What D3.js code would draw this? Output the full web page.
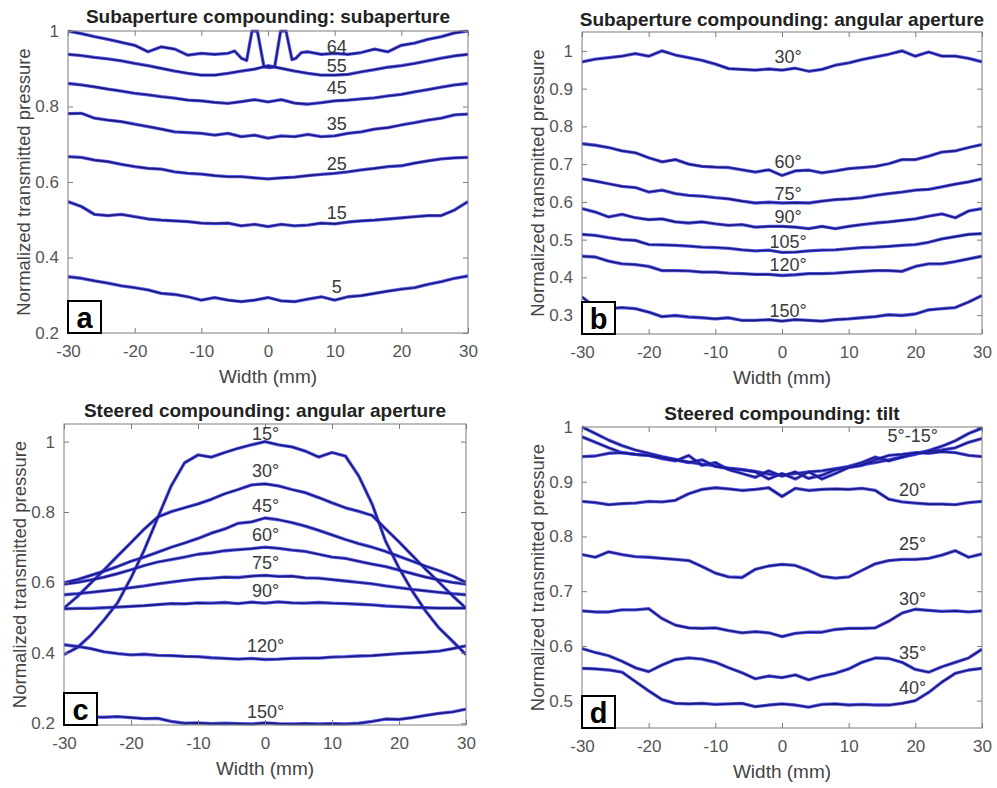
<!DOCTYPE html>
<html>
<head>
<meta charset="utf-8">
<script src="https://cdn.jsdelivr.net/npm/d3@7"></script>
<style>
  body { margin: 0; background: #fff; }
  svg { display: block; font-family: "Liberation Sans", Arial, sans-serif; }
</style>
</head>
<body>
<svg id="fig" width="997" height="788"></svg>
<script>
// Lateral position of every sample (mm)
const widthMm = [-30,-28,-26,-24,-22,-20,-18,-16,-14,-12,-10,-8,-6,-4,-2,0,2,4,6,8,10,12,14,16,18,20,22,24,26,28,30];
const xTicks = [-30,-20,-10,0,10,20,30];

// (a) subaperture compounding, number of elements in the subaperture
const subapLabels = ["64","55","45","35","25","15","5"];
const subapLabelY = [0.958,0.906,0.848,0.754,0.649,0.517,0.323];
const subap64X = [-30,-28,-26,-24,-22,-20,-18,-16,-14,-12,-10,-8,-6,-5,-4,-3.2,-2.4,-1.6,-0.6,0.2,1.0,1.9,2.7,3.6,4.2,5,6,8,10,12,14,16,18,20,22,24,26,28,30];
const subap64 = [1.000,0.993,0.985,0.978,0.970,0.962,0.945,0.958,0.952,0.936,0.941,0.938,0.941,0.947,0.928,0.922,1.000,1.000,0.905,0.903,0.905,1.000,1.000,0.924,0.928,0.943,0.945,0.938,0.941,0.938,0.943,0.952,0.945,0.962,0.968,0.978,0.985,0.995,1.000];
const subap55 = [0.938,0.935,0.930,0.926,0.921,0.914,0.908,0.901,0.894,0.888,0.883,0.883,0.888,0.894,0.899,0.908,0.901,0.894,0.888,0.883,0.883,0.885,0.892,0.898,0.904,0.908,0.914,0.921,0.928,0.934,0.938];
const subap45 = [0.861,0.857,0.852,0.846,0.841,0.835,0.831,0.826,0.822,0.817,0.815,0.811,0.808,0.813,0.818,0.812,0.818,0.809,0.806,0.810,0.815,0.817,0.820,0.823,0.828,0.832,0.839,0.845,0.851,0.857,0.861];
const subap35 = [0.781,0.782,0.769,0.764,0.760,0.753,0.747,0.740,0.733,0.731,0.729,0.724,0.729,0.720,0.724,0.716,0.722,0.720,0.726,0.720,0.722,0.729,0.733,0.740,0.744,0.751,0.757,0.764,0.769,0.778,0.780];
const subap25 = [0.667,0.665,0.658,0.654,0.647,0.641,0.636,0.634,0.627,0.623,0.621,0.617,0.614,0.614,0.611,0.608,0.611,0.613,0.617,0.620,0.623,0.627,0.632,0.636,0.641,0.643,0.650,0.656,0.661,0.664,0.665];
const subap15 = [0.548,0.535,0.514,0.511,0.514,0.508,0.502,0.499,0.497,0.495,0.491,0.490,0.491,0.484,0.488,0.482,0.488,0.484,0.486,0.491,0.489,0.494,0.497,0.499,0.502,0.505,0.508,0.511,0.511,0.526,0.548];
const subap5 = [0.349,0.345,0.338,0.332,0.325,0.320,0.314,0.305,0.302,0.296,0.287,0.294,0.287,0.283,0.287,0.294,0.285,0.283,0.290,0.296,0.287,0.296,0.299,0.305,0.311,0.316,0.320,0.329,0.336,0.345,0.351];

// (b) subaperture compounding, angular aperture
const aperLabels = ["30°","60°","75°","90°","105°","120°","150°"];
const aperLabelY = [0.984,0.706,0.622,0.560,0.494,0.434,0.310];
const aper30 = [0.971,0.978,0.982,0.986,0.993,0.986,1.000,0.989,0.982,0.975,0.965,0.953,0.951,0.949,0.952,0.949,0.954,0.946,0.951,0.962,0.968,0.977,0.984,0.991,1.000,0.986,0.997,0.986,0.986,0.980,0.971];
const aper60 = [0.754,0.750,0.744,0.735,0.730,0.717,0.706,0.712,0.700,0.694,0.692,0.691,0.685,0.679,0.685,0.670,0.682,0.684,0.677,0.682,0.688,0.691,0.694,0.701,0.712,0.712,0.721,0.732,0.735,0.744,0.752];
const aper75 = [0.661,0.655,0.648,0.641,0.638,0.626,0.631,0.622,0.617,0.615,0.611,0.608,0.602,0.597,0.599,0.597,0.598,0.597,0.602,0.606,0.608,0.611,0.617,0.622,0.626,0.631,0.633,0.640,0.647,0.653,0.661];
const aper90 = [0.582,0.573,0.560,0.567,0.558,0.553,0.555,0.547,0.544,0.547,0.542,0.538,0.540,0.533,0.535,0.535,0.533,0.529,0.535,0.529,0.535,0.540,0.544,0.547,0.551,0.555,0.562,0.568,0.558,0.576,0.582];
const aper105 = [0.514,0.511,0.505,0.500,0.498,0.487,0.486,0.485,0.483,0.480,0.479,0.477,0.473,0.470,0.472,0.466,0.467,0.470,0.472,0.473,0.476,0.479,0.480,0.482,0.485,0.487,0.493,0.502,0.508,0.514,0.516];
const aper120 = [0.456,0.454,0.443,0.436,0.434,0.429,0.418,0.418,0.417,0.414,0.414,0.411,0.410,0.408,0.408,0.405,0.407,0.410,0.410,0.411,0.414,0.416,0.418,0.418,0.416,0.429,0.436,0.436,0.442,0.449,0.456];
const aper150 = [0.348,0.321,0.317,0.320,0.317,0.308,0.296,0.299,0.295,0.293,0.290,0.293,0.286,0.286,0.288,0.284,0.288,0.286,0.284,0.288,0.290,0.293,0.296,0.301,0.299,0.303,0.314,0.317,0.320,0.335,0.352];

// (c) steered compounding, angular aperture
const steerLabels = ["15°","30°","45°","60°","75°","90°","120°","150°"];
const steerLabelY = [1.021,0.916,0.817,0.736,0.656,0.575,0.418,0.233];
const steer15 = [0.395,0.415,0.450,0.494,0.542,0.613,0.693,0.784,0.874,0.940,0.962,0.956,0.969,0.981,0.991,1.000,0.991,0.985,0.973,0.956,0.969,0.959,0.902,0.822,0.717,0.641,0.575,0.518,0.470,0.433,0.395];
const steer30 = [0.527,0.560,0.598,0.636,0.675,0.713,0.752,0.786,0.801,0.812,0.823,0.836,0.852,0.864,0.877,0.880,0.874,0.864,0.855,0.841,0.826,0.812,0.802,0.790,0.752,0.715,0.676,0.637,0.600,0.562,0.527];
const steer45 = [0.599,0.608,0.620,0.632,0.645,0.660,0.672,0.686,0.700,0.712,0.725,0.740,0.752,0.768,0.772,0.783,0.778,0.770,0.760,0.748,0.735,0.722,0.710,0.700,0.688,0.674,0.660,0.646,0.633,0.618,0.600];
const steer60 = [0.595,0.600,0.607,0.615,0.625,0.636,0.648,0.658,0.665,0.672,0.680,0.684,0.690,0.693,0.696,0.700,0.697,0.692,0.688,0.680,0.672,0.668,0.660,0.652,0.645,0.635,0.625,0.615,0.607,0.600,0.595];
const steer75 = [0.565,0.568,0.572,0.576,0.580,0.585,0.590,0.596,0.601,0.606,0.610,0.612,0.615,0.614,0.618,0.620,0.617,0.618,0.613,0.612,0.608,0.604,0.600,0.596,0.590,0.585,0.580,0.576,0.572,0.568,0.565];
const steer90 = [0.525,0.526,0.526,0.528,0.530,0.532,0.534,0.537,0.540,0.539,0.542,0.541,0.543,0.540,0.544,0.541,0.545,0.542,0.541,0.543,0.541,0.540,0.538,0.536,0.533,0.531,0.529,0.528,0.527,0.527,0.527];
const steer120 = [0.423,0.418,0.412,0.403,0.398,0.394,0.396,0.393,0.392,0.390,0.389,0.386,0.384,0.382,0.384,0.381,0.382,0.384,0.385,0.385,0.388,0.389,0.391,0.392,0.395,0.398,0.400,0.402,0.405,0.412,0.420];
const steer150 = [0.222,0.220,0.218,0.217,0.219,0.216,0.213,0.214,0.205,0.200,0.201,0.199,0.200,0.199,0.198,0.201,0.199,0.198,0.199,0.198,0.199,0.198,0.200,0.205,0.212,0.211,0.216,0.222,0.228,0.232,0.240];

// (d) steered compounding, tilt (5°, 10° and 15° share one label)
const tiltLabels = ["5°-15°","20°","25°","30°","35°","40°"];
const tiltLabelY = [0.984,0.885,0.787,0.685,0.587,0.524];
const tilt5 = [1.000,0.988,0.976,0.966,0.958,0.952,0.946,0.941,0.936,0.932,0.929,0.925,0.922,0.919,0.914,0.912,0.915,0.918,0.920,0.924,0.927,0.931,0.935,0.940,0.945,0.950,0.957,0.965,0.975,0.988,0.998];
const tilt10 = [0.982,0.972,0.962,0.953,0.950,0.948,0.942,0.938,0.948,0.930,0.935,0.922,0.915,0.908,0.920,0.910,0.918,0.906,0.912,0.922,0.928,0.935,0.945,0.938,0.945,0.952,0.956,0.958,0.962,0.972,0.979];
const tilt15 = [0.946,0.947,0.952,0.953,0.950,0.948,0.944,0.940,0.935,0.940,0.928,0.924,0.922,0.918,0.905,0.915,0.905,0.918,0.905,0.915,0.926,0.930,0.940,0.948,0.950,0.953,0.952,0.955,0.953,0.948,0.946];
const tilt20 = [0.864,0.862,0.858,0.860,0.861,0.864,0.863,0.866,0.878,0.886,0.889,0.887,0.884,0.886,0.889,0.873,0.888,0.884,0.886,0.887,0.886,0.888,0.884,0.868,0.863,0.861,0.859,0.859,0.858,0.862,0.864];
const tilt25 = [0.767,0.762,0.772,0.767,0.763,0.762,0.760,0.758,0.756,0.745,0.733,0.726,0.725,0.740,0.746,0.749,0.747,0.738,0.727,0.724,0.726,0.738,0.750,0.756,0.758,0.758,0.760,0.766,0.774,0.762,0.768];
const tilt30 = [0.664,0.662,0.662,0.666,0.666,0.668,0.650,0.638,0.633,0.632,0.633,0.628,0.624,0.626,0.624,0.617,0.623,0.625,0.625,0.630,0.632,0.632,0.633,0.645,0.660,0.667,0.665,0.663,0.664,0.662,0.664];
const tilt35 = [0.595,0.588,0.582,0.572,0.560,0.553,0.565,0.575,0.578,0.576,0.570,0.560,0.551,0.540,0.545,0.542,0.547,0.538,0.545,0.550,0.558,0.570,0.578,0.577,0.570,0.557,0.552,0.562,0.570,0.578,0.594];
const tilt40 = [0.559,0.558,0.556,0.552,0.535,0.518,0.502,0.495,0.494,0.495,0.493,0.494,0.495,0.489,0.492,0.494,0.492,0.488,0.493,0.494,0.492,0.493,0.492,0.492,0.495,0.500,0.515,0.534,0.550,0.556,0.559];

const yTicksA = [0.2,0.4,0.6,0.8,1];
const yTicksB = [0.3,0.4,0.5,0.6,0.7,0.8,0.9,1];
const yTicksC = [0.2,0.4,0.6,0.8,1];
const yTicksD = [0.5,0.6,0.7,0.8,0.9,1];

const svg = d3.select("#fig");

// helper: pair an x array with a value array
function curve(xs, values) {
  return values.map((v, i) => [xs[i], v]).filter(d => d[0] !== undefined);
}

const panels = [
  { letter: "a", title: "Subaperture compounding: subaperture",
    left: 68, right: 468, top: 31, bottom: 333, titleY: 23,
    yDomain: [0.2, 1], yTicks: yTicksA, labelX: 10.3,
    labels: subapLabels, labelY: subapLabelY,
    series: [curve(subap64X, subap64), curve(widthMm, subap55), curve(widthMm, subap45),
             curve(widthMm, subap35), curve(widthMm, subap25), curve(widthMm, subap15), curve(widthMm, subap5)] },
  { letter: "b", title: "Subaperture compounding: angular aperture",
    left: 582, right: 982, top: 32, bottom: 334, titleY: 26,
    yDomain: [0.25, 1.05], yTicks: yTicksB, labelX: 0.9,
    labels: aperLabels, labelY: aperLabelY,
    series: [aper30, aper60, aper75, aper90, aper105, aper120, aper150].map(v => curve(widthMm, v)) },
  { letter: "c", title: "Steered compounding: angular aperture",
    left: 64, right: 466, top: 424, bottom: 725, titleY: 417,
    yDomain: [0.195, 1.05], yTicks: yTicksC, labelX: 0.1,
    labels: steerLabels, labelY: steerLabelY,
    series: [steer15, steer30, steer45, steer60, steer75, steer90, steer120, steer150].map(v => curve(widthMm, v)) },
  { letter: "d", title: "Steered compounding: tilt",
    left: 582, right: 982, top: 427, bottom: 728, titleY: 420,
    yDomain: [0.45, 1], yTicks: yTicksD, labelX: 19.6,
    labels: tiltLabels, labelY: tiltLabelY,
    series: [tilt5, tilt10, tilt15, tilt20, tilt25, tilt30, tilt35, tilt40].map(v => curve(widthMm, v)) }
];

function drawPanel(p) {
  const x = d3.scaleLinear().domain([-30, 30]).range([p.left, p.right]);
  const y = d3.scaleLinear().domain(p.yDomain).range([p.bottom, p.top]);
  const g = svg.append("g");
  const midX = (p.left + p.right) / 2;

  const clipId = "clip-" + p.letter;
  g.append("clipPath").attr("id", clipId)
    .append("rect")
    .attr("x", p.left).attr("y", p.top - 1.5)
    .attr("width", p.right - p.left).attr("height", p.bottom - p.top + 3);

  // curves: a bright blue halo under a dark core, like the original rendering
  const line = d3.line().x(d => x(d[0])).y(d => y(d[1]));
  const curves = g.append("g").attr("clip-path", `url(#${clipId})`).attr("fill", "none");
  p.series.forEach(pts => {
    curves.append("path").attr("d", line(pts))
      .attr("stroke", "#3030f0").attr("stroke-width", 3.3).attr("stroke-opacity", 0.8)
      .attr("stroke-linejoin", "round");
    curves.append("path").attr("d", line(pts))
      .attr("stroke", "#1a1a78").attr("stroke-width", 1.6)
      .attr("stroke-linejoin", "round");
  });

  // axes, matlab style ticks pointing inwards on all four sides
  const fmt = d => String(d);
  const bottom = g.append("g").attr("transform", `translate(0,${p.bottom})`)
    .call(d3.axisBottom(x).tickValues(xTicks).tickSize(-5).tickPadding(12).tickFormat(fmt));
  const left = g.append("g").attr("transform", `translate(${p.left},0)`)
    .call(d3.axisLeft(y).tickValues(p.yTicks).tickSize(-5).tickPadding(9).tickFormat(fmt));
  g.append("g").attr("transform", `translate(0,${p.top})`)
    .call(d3.axisTop(x).tickValues(xTicks).tickSize(-5).tickFormat(""));
  g.append("g").attr("transform", `translate(${p.right},0)`)
    .call(d3.axisRight(y).tickValues(p.yTicks).tickSize(-5).tickFormat(""));

  g.selectAll(".domain").remove();
  g.selectAll(".tick line").attr("stroke", "#7d7d7d");
  [bottom, left].forEach(a => a.selectAll("text")
    .attr("font-size", 17).attr("fill", "#555").attr("font-family", "Liberation Sans, Arial, sans-serif"));

  g.append("rect")
    .attr("x", p.left).attr("y", p.top)
    .attr("width", p.right - p.left).attr("height", p.bottom - p.top)
    .attr("fill", "none").attr("stroke", "#7d7d7d").attr("stroke-width", 1);

  // curve labels
  g.append("g").selectAll("text").data(p.labels).join("text")
    .attr("x", x(p.labelX))
    .attr("y", (d, i) => y(p.labelY[i]))
    .attr("text-anchor", "middle")
    .attr("dominant-baseline", "central")
    .attr("font-size", 18).attr("fill", "#3a3a3a")
    .text(d => d);

  // title and axis labels
  g.append("text").attr("x", midX).attr("y", p.titleY)
    .attr("text-anchor", "middle").attr("font-size", 19).attr("font-weight", "bold").attr("fill", "#222")
    .text(p.title);
  g.append("text").attr("x", midX).attr("y", p.bottom + 50)
    .attr("text-anchor", "middle").attr("font-size", 19).attr("fill", "#444")
    .text("Width (mm)");
  g.append("text")
    .attr("transform", `translate(${p.left - 38},${(p.top + p.bottom) / 2}) rotate(-90)`)
    .attr("text-anchor", "middle").attr("font-size", 18.5).attr("fill", "#444")
    .text("Normalized transmitted pressure");

  // panel letter box
  g.append("rect")
    .attr("x", p.left).attr("y", p.bottom - 32)
    .attr("width", 33).attr("height", 32)
    .attr("fill", "#fff").attr("stroke", "#000").attr("stroke-width", 2);
  g.append("text")
    .attr("x", p.left + 16.5).attr("y", p.bottom - 15)
    .attr("text-anchor", "middle").attr("dominant-baseline", "central")
    .attr("font-size", 29).attr("font-weight", "bold").attr("fill", "#000")
    .text(p.letter);
}

panels.forEach(drawPanel);
</script>
</body>
</html>
